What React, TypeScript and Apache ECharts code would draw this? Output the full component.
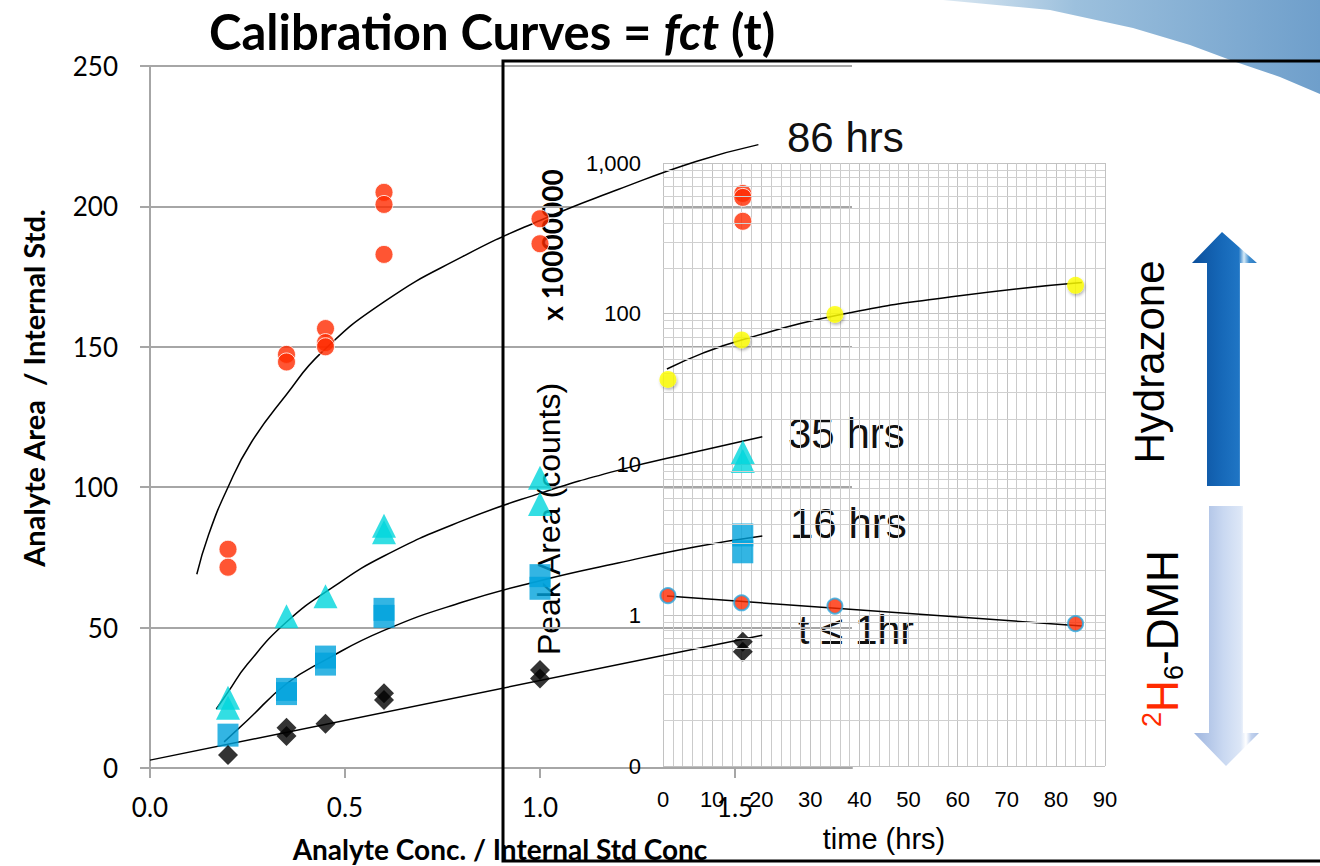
import React, { useEffect, useRef } from "react";
import * as echarts from "echarts";

// ---------- main chart data (Analyte Conc. / Internal Std Conc) ----------
const concX = [0.2, 0.35, 0.45, 0.6, 1.0, 1.52];
const hrs86Y = [[77.9, 71.5], [147.3, 144.6], [156.5, 151.5, 150], [205, 200.7, 182.9], [195.6, 186.7], [204.6, 203.2, 194.7]];
const hrs35Y = [[25, 21.5], [54], [61.2], [86.3, 84], [103.4, 94], [112.5, 109.3]];
const hrs16Y = [[11.7], [28, 26.5], [39.5, 37], [56.5, 54], [68.5, 64], [83, 77]];
const hr1Y = [[4.6], [14.3, 11.4], [15.8], [26.6, 24.2], [34.9, 31.9], [45, 41.4]];

// trend curves
const fit86 = [[0.12, 69], [0.15, 83], [0.2, 100], [0.26, 116], [0.35, 133], [0.44, 148], [0.6, 166], [0.8, 182], [1.0, 195], [1.2, 206], [1.4, 216], [1.56, 222]];
const fit35 = [[0.17, 21], [0.2, 27], [0.25, 37], [0.35, 52], [0.47, 64.5], [0.6, 75.5], [0.8, 88], [1.0, 97.8], [1.2, 106], [1.4, 112.6], [1.57, 118]];
const fit16 = [[0.19, 9.3], [0.25, 17], [0.35, 30], [0.45, 38.5], [0.6, 49], [0.8, 59], [1.0, 66.7], [1.2, 73], [1.4, 78.8], [1.57, 82.6]];
const fit1 = [[0, 2.8], [1.57, 47.3]];

const xTicks = [0, 0.5, 1.0, 1.5];

// ---------- inset chart data (time) ----------
const timeHrs = [1, 16, 35, 84];
const hydrazoneArea = [36.7, 67, 99, 154.5];
const dmhArea = [1.35, 1.21, 1.15, 0.88];
const hydrazoneFit = [[0.8, 43], [8, 54.6], [16, 67], [35, 97], [60, 131], [85.3, 161]];
const dmhFit = [[0.8, 1.34], [85.3, 0.85]];
const logMinorTicks = [0.2, 0.3, 0.4, 0.5, 0.6, 0.7, 0.8, 0.9, 2, 3, 4, 5, 6, 7, 8, 9, 20, 30, 40, 50, 60, 70, 80, 90, 200, 300, 400, 500, 600, 700, 800, 900];

const pts = (ys: number[][]) => concX.flatMap((x, i) => ys[i].map((y) => [x, y]));

const LATO = "Lato, 'Open Sans', sans-serif";
const ARIAL = "'Liberation Sans', Arial, sans-serif";

export default function App() {
  const ref = useRef<HTMLDivElement>(null);
  useEffect(() => {
    if (!ref.current) return;
    const chart = echarts.init(ref.current, undefined, { renderer: "svg" });
    const gray = "#a6a6a6";
    const fitLine = (data: number[][], xi: number) => ({
      type: "line",
      xAxisIndex: xi,
      yAxisIndex: xi,
      data,
      smooth: true,
      showSymbol: false,
      symbol: "none",
      silent: true,
      lineStyle: { color: "#000", width: 1.5 },
      z: 3,
    });
    chart.setOption({
      animation: false,
      backgroundColor: "#fff",
      grid: [
        { left: 150, top: 66, width: 702, height: 702 },
        { left: 663, top: 163, width: 442, height: 603 },
      ],
      xAxis: [
        {
          type: "value",
          gridIndex: 0,
          min: 0,
          max: 1.8,
          interval: 0.5,
          axisLine: { show: true, lineStyle: { color: gray, width: 2 } },
          axisTick: { show: true, length: 10, customValues: xTicks, lineStyle: { color: gray, width: 2 } },
          axisLabel: {
            customValues: xTicks,
            formatter: (v: number) => v.toFixed(1),
            fontSize: 26,
            fontFamily: LATO,
            color: "#000",
            margin: 26,
          },
          splitLine: { show: false },
        },
        {
          type: "value",
          gridIndex: 1,
          min: 0,
          max: 90,
          interval: 10,
          axisLine: { show: false },
          axisTick: { show: false },
          axisLabel: { fontSize: 22, fontFamily: ARIAL, color: "#000", margin: 22 },
          splitLine: { show: true, lineStyle: { color: "#c2c2c2", width: 1 } },
          minorTick: { show: true, splitNumber: 5, length: 0 },
          minorSplitLine: { show: true, lineStyle: { color: "#cbcbcb", width: 1 } },
          name: "time (hrs)",
          nameLocation: "middle",
          nameGap: 58,
          nameTextStyle: { fontSize: 29, fontFamily: ARIAL, color: "#000" },
        },
      ],
      yAxis: [
        {
          type: "value",
          gridIndex: 0,
          min: 0,
          max: 250,
          interval: 50,
          axisLine: { show: true, lineStyle: { color: gray, width: 2 } },
          axisTick: { show: true, length: 10, lineStyle: { color: gray, width: 2 } },
          axisLabel: { fontSize: 26, fontFamily: LATO, color: "#000", margin: 32 },
          splitLine: { show: true, lineStyle: { color: gray, width: 2 } },
        },
        {
          type: "log",
          logBase: 10,
          gridIndex: 1,
          min: 0.1,
          max: 1000,
          axisLine: { show: false },
          axisTick: { show: false },
          axisLabel: {
            fontSize: 22,
            fontFamily: ARIAL,
            color: "#000",
            margin: 22,
            formatter: (v: number) => (v < 0.99 ? "0" : Math.round(v).toLocaleString("en-US")),
          },
          splitLine: { show: true, lineStyle: { color: "#c2c2c2", width: 1 } },
        },
      ],
      series: [
        // inset minor horizontal grid lines (log 2..9)
        {
          type: "line",
          xAxisIndex: 1,
          yAxisIndex: 1,
          data: dmhFit,
          showSymbol: false,
          symbol: "none",
          lineStyle: { opacity: 0 },
          silent: true,
          z: 1,
          markLine: {
            silent: true,
            symbol: ["none", "none"],
            label: { show: false },
            lineStyle: { color: "#d0d0d0", width: 1, type: "solid" },
            data: logMinorTicks.map((v) => ({ yAxis: v })),
          },
        },
        fitLine(fit86, 0),
        fitLine(fit35, 0),
        fitLine(fit16, 0),
        fitLine(fit1, 0),
        {
          name: "86 hrs",
          type: "scatter",
          xAxisIndex: 0,
          yAxisIndex: 0,
          data: pts(hrs86Y),
          symbol: "circle",
          symbolSize: 18,
          itemStyle: { color: "#ff2a00", borderColor: "#fff", borderWidth: 1 },
          z: 4,
        },
        {
          name: "35 hrs",
          type: "scatter",
          xAxisIndex: 0,
          yAxisIndex: 0,
          data: pts(hrs35Y),
          symbol: "triangle",
          symbolSize: 24,
          itemStyle: { color: "#00d6dc" },
          z: 4,
        },
        {
          name: "16 hrs",
          type: "scatter",
          xAxisIndex: 0,
          yAxisIndex: 0,
          data: pts(hrs16Y),
          symbol: "rect",
          symbolSize: [21, 23],
          itemStyle: { color: "#00a2dc" },
          z: 4,
        },
        {
          name: "t ≤ 1hr",
          type: "scatter",
          xAxisIndex: 0,
          yAxisIndex: 0,
          data: pts(hr1Y),
          symbol: "diamond",
          symbolSize: [20, 20],
          itemStyle: { color: "#000" },
          z: 4,
        },
        fitLine(hydrazoneFit, 1),
        fitLine(dmhFit, 1),
        {
          name: "Hydrazone",
          type: "scatter",
          xAxisIndex: 1,
          yAxisIndex: 1,
          data: timeHrs.map((t, i) => [t, hydrazoneArea[i]]),
          symbolSize: 17,
          itemStyle: { color: "#ffff00", shadowBlur: 3, shadowColor: "rgba(0,0,0,0.35)", shadowOffsetX: 1, shadowOffsetY: 2 },
          z: 5,
        },
        {
          name: "2H6-DMH",
          type: "scatter",
          xAxisIndex: 1,
          yAxisIndex: 1,
          data: timeHrs.map((t, i) => [t, dmhArea[i]]),
          symbolSize: 15,
          itemStyle: { color: "#ff2a00", borderColor: "#2aa7e0", borderWidth: 2 },
          z: 5,
        },
      ],
      graphic: [
        {
          type: "polygon",
          silent: true,
          z: -10,
          shape: {
            points: [[943, 0], [1050, 10], [1133, 28], [1190, 45], [1233, 61], [1280, 77], [1320, 94], [1320, 0]],
          },
          style: {
            fill: {
              type: "linear", x: 0, y: 0, x2: 1, y2: 0,
              colorStops: [
                { offset: 0, color: "#dbe8f2" },
                { offset: 0.35, color: "#9cc0dd" },
                { offset: 1, color: "#6f9fcb" },
              ],
            },
          },
        },
        {
          type: "rect",
          silent: true,
          shape: { x: 503, y: 61, width: 840, height: 800 },
          style: { fill: "none", stroke: "#000", lineWidth: 3 },
          z: 10,
        },
        {
          type: "text",
          x: 209,
          y: 31,
          style: {
            text: "{a|Calibration Curves = }{b|fct}{a| (t)}",
            align: "left",
            verticalAlign: "middle",
            rich: {
              a: { fontSize: 49, fontWeight: "bold", fontFamily: LATO, fill: "#000" },
              b: { fontSize: 49, fontWeight: "bold", fontStyle: "italic", fontFamily: LATO, fill: "#000" },
            },
          },
        },
        {
          type: "text",
          x: 33,
          y: 388,
          rotation: Math.PI / 2,
          style: { text: "Analyte Area  / Internal Std.", fontSize: 29, fontWeight: "bold", fontFamily: LATO, fill: "#000", align: "center", verticalAlign: "middle" },
        },
        {
          type: "text",
          x: 500,
          y: 849,
          style: { text: "Analyte Conc. / Internal Std Conc", fontSize: 28, fontWeight: "bold", fontFamily: LATO, fill: "#000", align: "center", verticalAlign: "middle" },
        },
        {
          type: "text",
          x: 552,
          y: 245,
          rotation: Math.PI / 2,
          style: { text: "x 10000000", fontSize: 28, fontWeight: "bold", fontFamily: LATO, fill: "#000", align: "center", verticalAlign: "middle" },
        },
        {
          type: "text",
          x: 549,
          y: 519,
          rotation: Math.PI / 2,
          style: { text: "Peak Area (counts)", fontSize: 32, fontFamily: ARIAL, fill: "#000", align: "center", verticalAlign: "middle" },
        },
        { type: "text", x: 787, y: 137, style: { text: "86 hrs", fontSize: 42, fontFamily: ARIAL, fill: "#111", align: "left", verticalAlign: "middle" } },
        { type: "text", x: 788, y: 433, style: { text: "35 hrs", fontSize: 42, fontFamily: ARIAL, fill: "#111", align: "left", verticalAlign: "middle" } },
        { type: "text", x: 790, y: 523, style: { text: "16 hrs", fontSize: 42, fontFamily: ARIAL, fill: "#111", align: "left", verticalAlign: "middle" } },
        { type: "text", x: 798, y: 630, style: { text: "t ≤ 1hr", fontSize: 41, fontFamily: ARIAL, fill: "#111", align: "left", verticalAlign: "middle" } },
        {
          type: "text",
          x: 1149,
          y: 362,
          rotation: Math.PI / 2,
          style: { text: "Hydrazone", fontSize: 42, fontFamily: ARIAL, fill: "#000", align: "center", verticalAlign: "middle" },
        },
        {
          type: "group",
          x: 1162,
          y: 727,
          rotation: Math.PI / 2,
          children: [
            { type: "text", x: 0, y: -10, style: { text: "2", fontSize: 27, fontFamily: ARIAL, fill: "#ff2a00", align: "left", verticalAlign: "middle" } },
            { type: "text", x: 15, y: 0, style: { text: "H", fontSize: 44, fontFamily: ARIAL, fill: "#ff2a00", align: "left", verticalAlign: "middle" } },
            { type: "text", x: 47, y: 12, style: { text: "6", fontSize: 27, fontFamily: ARIAL, fill: "#000", align: "left", verticalAlign: "middle" } },
            { type: "text", x: 62, y: 0, style: { text: "-DMH", fontSize: 44, fontFamily: ARIAL, fill: "#000", align: "left", verticalAlign: "middle" } },
          ],
        },
        {
          type: "polygon",
          silent: true,
          shape: { points: [[1207, 486], [1207, 263], [1192, 263], [1222, 232], [1257, 263], [1240, 263], [1240, 486]] },
          style: {
            fill: {
              type: "linear", x: 0, y: 0, x2: 1, y2: 0,
              colorStops: [
                { offset: 0, color: "#0b4f9c" },
                { offset: 0.45, color: "#1668b8" },
                { offset: 0.72, color: "#1f75c4" },
                { offset: 0.8, color: "#d6ebf8" },
                { offset: 0.88, color: "#3f8ed0" },
                { offset: 1, color: "#2a78c0" },
              ],
            },
          },
        },
        {
          type: "polygon",
          silent: true,
          shape: { points: [[1209, 506], [1243, 506], [1243, 733], [1259, 733], [1226, 766], [1194, 733], [1209, 733]] },
          style: {
            fill: {
              type: "linear", x: 0, y: 0, x2: 1, y2: 0,
              colorStops: [
                { offset: 0, color: "#9fb6df" },
                { offset: 0.45, color: "#c9d8f1" },
                { offset: 0.72, color: "#dde7f7" },
                { offset: 0.8, color: "#ffffff" },
                { offset: 0.88, color: "#c2d2ee" },
                { offset: 1, color: "#aabfe3" },
              ],
            },
          },
        },
      ],
    });
    return () => chart.dispose();
  }, []);
  return <div ref={ref} style={{ position: "absolute", left: 0, top: 0, width: 1320, height: 866 }} />;
}
